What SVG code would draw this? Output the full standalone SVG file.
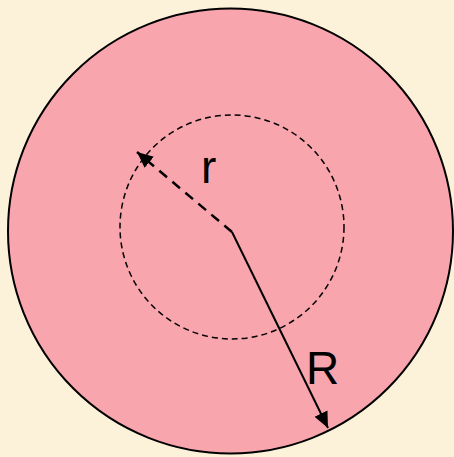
<svg xmlns="http://www.w3.org/2000/svg" width="454" height="457" viewBox="0 0 454 457">
<defs>
<marker id="ah2" viewBox="0 0 10 10" refX="10" refY="5" markerWidth="16" markerHeight="16" markerUnits="userSpaceOnUse" orient="auto">
<path d="M0,0.5 L10,5 L0,9.5 Z" fill="#000"/>
</marker>
</defs>
<style>
.lbl{font-family:"Liberation Sans",Arial,sans-serif;font-size:46px;fill:#000}
</style>
<rect width="454" height="457" fill="#FCF1D9"/>
<g id="outer"><circle cx="230.5" cy="231" r="222.5" fill="#F8A5AE" stroke="#000" stroke-width="2"/></g>
<g id="inner"><circle cx="232" cy="227" r="112" fill="none" stroke="#000" stroke-width="1.5" stroke-dasharray="6,4"/></g>
<g id="connectors">
<line x1="232" y1="232" x2="137" y2="152" stroke="#000" stroke-width="2.5" stroke-dasharray="10,7" marker-end="url(#ah2)"/>
<line x1="232" y1="232" x2="328" y2="428" stroke="#000" stroke-width="2" marker-end="url(#ah2)"/>
</g>
<text class="lbl" x="201" y="183">r</text>
<text class="lbl" x="306" y="384">R</text>
</svg>
